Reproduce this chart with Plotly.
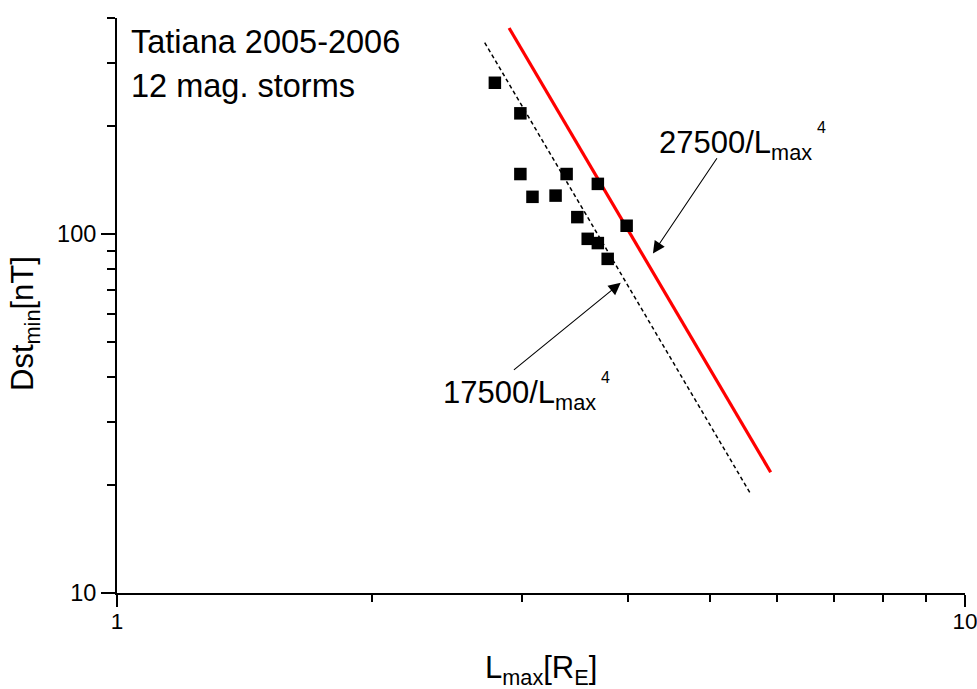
import plotly.graph_objects as go

# ---- data ----
L_max = [2.79, 2.99, 2.99, 3.09, 3.29, 3.39, 3.49, 3.59, 3.69, 3.69, 3.79, 3.99]
Dst_min = [264, 217, 147, 127, 128, 147, 111.5, 97, 138, 94.4, 85.3, 105.5]

red_x = [2.90, 5.90]          # 27500/Lmax^4 line end points
red_y = [375, 21.7]
blk_x = [2.714, 5.59]         # 17500/Lmax^4 line end points
blk_y = [341.6, 18.85]

x_major = [1, 10]
x_major_text = ["1", "10"]
x_minor = [2, 3, 4, 5, 6, 7, 8, 9]
y_major = [10, 100]
y_major_text = ["10", "100"]
y_minor = [20, 30, 40, 50, 60, 70, 80, 90, 200, 300, 400]

FONT = "Liberation Sans, Arial, sans-serif"
W, H = 977, 689
ML, MR, MT, MB = 117, 12, 18, 96
PW, PH = W - ML - MR, H - MT - MB


def xp(px):
    return (px - ML) / PW


def yp(py):
    return (H - MB - py) / PH


def txt(text, px, py, size=31, xanchor="left", angle=0):
    return dict(text=text, x=xp(px), y=yp(py), xref="paper", yref="paper",
                xanchor=xanchor, yanchor="middle", showarrow=False, textangle=angle,
                font=dict(size=size, family=FONT, color="black"))


fig = go.Figure()
fig.add_trace(go.Scatter(x=red_x, y=red_y, mode="lines",
                         line=dict(color="#ff0000", width=3.2), showlegend=False))
fig.add_trace(go.Scatter(x=blk_x, y=blk_y, mode="lines",
                         line=dict(color="black", width=1.5, dash="4px,3px"), showlegend=False))
fig.add_trace(go.Scatter(x=L_max, y=Dst_min, mode="markers",
                         marker=dict(symbol="square", size=12.5, color="black",
                                     line=dict(width=0)), showlegend=False))

ann = [
    txt("Tatiana 2005-2006", 129, 42, size=32.5),
    txt("12 mag. storms", 129, 86.5, size=32.5),
    txt("27500/L<sub>max</sub>", 657, 145),
    txt("4", 815, 127, size=16),
    txt("17500/L<sub>max</sub>", 441, 395),
    txt("4", 599, 378, size=16),
    txt("Dst<sub>min</sub>[nT]", 25, 324, xanchor="center", angle=-90),
    txt("L<sub>max</sub>[R<sub>E</sub>]", 541, 670, xanchor="center"),
    # arrows
    dict(text="", x=0.632, y=1.9462, xref="x", yref="y", ax=65, ay=-96.6,
         showarrow=True, arrowhead=2, arrowsize=2.2, arrowwidth=1.1, arrowcolor="black"),
    dict(text="", x=0.594, y=1.8642, xref="x", yref="y", ax=-108.3, ay=88.3,
         showarrow=True, arrowhead=2, arrowsize=2.2, arrowwidth=1.1, arrowcolor="black"),
]

axis_common = dict(type="log", showgrid=False, zeroline=False, showline=True,
                   linecolor="black", linewidth=2, ticks="outside", tickwidth=2,
                   tickcolor="black", tickmode="array", automargin=False)

fig.update_layout(
    width=W, height=H, margin=dict(l=ML, r=MR, t=MT, b=MB, pad=0, autoexpand=False),
    paper_bgcolor="white", plot_bgcolor="white",
    font=dict(family=FONT, size=23, color="black"),
    xaxis=dict(**axis_common, range=[0, 1], tickvals=x_major, ticktext=x_major_text,
               ticklen=12, ticklabelstandoff=-5, ticklabeloverflow="allow",
               tickfont=dict(size=22.5, family=FONT, color="black"),
               minor=dict(tickmode="array", tickvals=x_minor, ticklen=7, tickwidth=2,
                          ticks="outside", tickcolor="black", showgrid=False)),
    yaxis=dict(**axis_common, range=[1, 2.60206], tickvals=y_major, ticktext=y_major_text,
               ticklen=14, ticklabelstandoff=0,
               tickfont=dict(size=23.5, family=FONT, color="black"),
               minor=dict(tickmode="array", tickvals=y_minor, ticklen=8, tickwidth=2,
                          ticks="outside", tickcolor="black", showgrid=False)),
    annotations=ann,
    showlegend=False,
)

fig.write_html("out.html")
